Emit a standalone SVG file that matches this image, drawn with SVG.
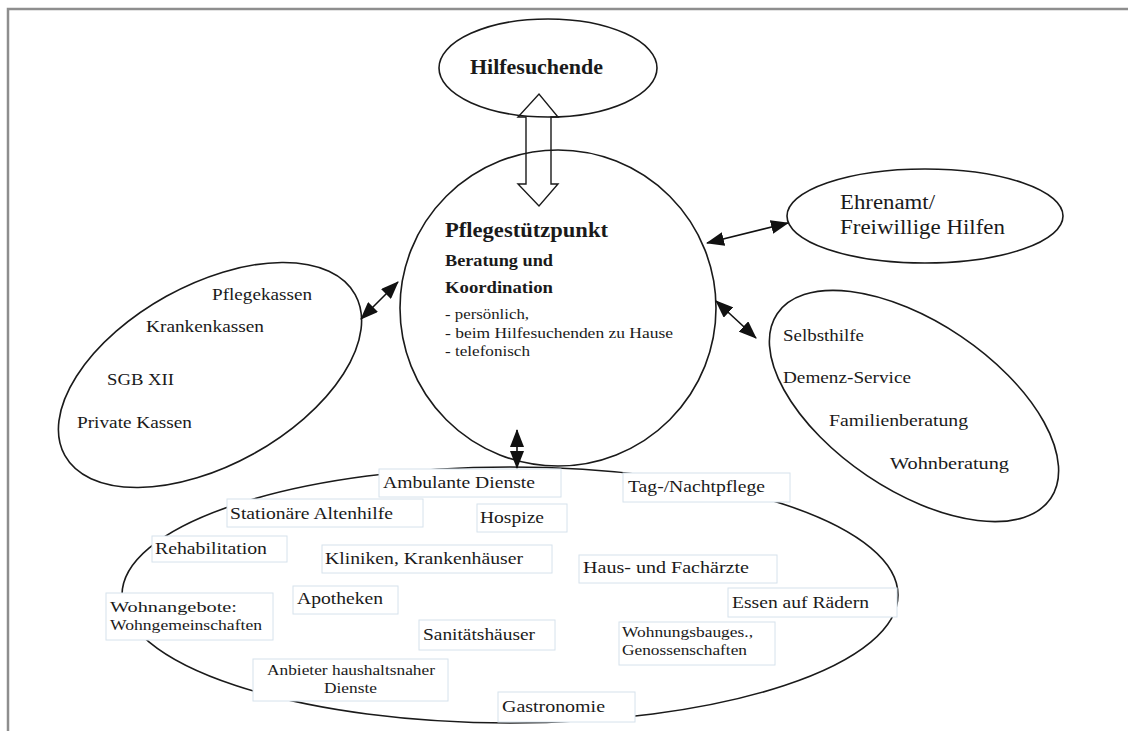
<svg xmlns="http://www.w3.org/2000/svg" width="1128" height="731" viewBox="0 0 1128 731">
<style>
.shape{fill:none;stroke:#1a1a1a;stroke-width:1.6}
.box{fill:#ffffff;stroke:#d6e2ec;stroke-width:1}
text{font-family:"Liberation Serif","Times New Roman",serif;fill:#1a1a1a}
.lb{font-size:17px}
.sm{font-size:15px}
.con{stroke:#111;stroke-width:1.6;fill:none}
</style>
<defs>
<marker id="ah" markerUnits="userSpaceOnUse" markerWidth="18" markerHeight="14" refX="17" refY="7" orient="auto-start-reverse" viewBox="0 0 18 14">
<path d="M0,0 L18,7 L0,14 Z" fill="#111"/>
</marker>
</defs>
<rect x="0" y="0" width="1128" height="731" fill="#ffffff"/>
<path d="M8,731 V9 H1128" fill="none" stroke="#8e8e8e" stroke-width="2.5"/>

<g id="hilfesuchende">
<ellipse class="shape" cx="548" cy="68" rx="109" ry="49"/>
<text x="470" y="74" font-family="Liberation Serif, serif" font-size="20" font-weight="bold" textLength="133" lengthAdjust="spacingAndGlyphs">Hilfesuchende</text>
</g>

<g id="pflegestuetzpunkt">
<circle class="shape" cx="558" cy="308" r="158"/>
<text x="445" y="237" font-size="20" font-weight="bold" textLength="163" lengthAdjust="spacingAndGlyphs">Pflegestützpunkt</text>
<text x="445" y="266" font-size="16" font-weight="bold" textLength="108" lengthAdjust="spacingAndGlyphs">Beratung und</text>
<text x="445" y="293" font-size="16" font-weight="bold" textLength="108" lengthAdjust="spacingAndGlyphs">Koordination</text>
<text x="445" y="319" font-size="14" textLength="84" lengthAdjust="spacingAndGlyphs">- persönlich,</text>
<text x="445" y="338" font-size="14" textLength="228" lengthAdjust="spacingAndGlyphs">- beim Hilfesuchenden zu Hause</text>
<text x="445" y="356" font-size="14" textLength="85" lengthAdjust="spacingAndGlyphs">- telefonisch</text>
</g>

<g id="kassen">
<ellipse class="shape" cx="210" cy="375" rx="166" ry="90" transform="rotate(-29 210 375)"/>
<text class="lb" x="212" y="300" textLength="100" lengthAdjust="spacingAndGlyphs">Pflegekassen</text>
<text class="lb" x="146" y="332" textLength="118" lengthAdjust="spacingAndGlyphs">Krankenkassen</text>
<text class="lb" x="107" y="385" textLength="67" lengthAdjust="spacingAndGlyphs">SGB XII</text>
<text class="lb" x="77" y="428" textLength="115" lengthAdjust="spacingAndGlyphs">Private Kassen</text>
</g>

<g id="ehrenamt">
<ellipse class="shape" cx="925" cy="216" rx="138" ry="47"/>
<text x="840" y="209" font-size="20" textLength="95" lengthAdjust="spacingAndGlyphs">Ehrenamt/</text>
<text x="840" y="234" font-size="20" textLength="165" lengthAdjust="spacingAndGlyphs">Freiwillige Hilfen</text>
</g>

<g id="selbsthilfe">
<ellipse class="shape" cx="914" cy="406" rx="165" ry="84" transform="rotate(34 914 406)"/>
<text class="lb" x="783" y="341" textLength="81" lengthAdjust="spacingAndGlyphs">Selbsthilfe</text>
<text class="lb" x="783" y="383" textLength="128" lengthAdjust="spacingAndGlyphs">Demenz-Service</text>
<text class="lb" x="829" y="426" textLength="139" lengthAdjust="spacingAndGlyphs">Familienberatung</text>
<text class="lb" x="890" y="469" textLength="119" lengthAdjust="spacingAndGlyphs">Wohnberatung</text>
</g>

<g id="dienste">
<ellipse class="shape" cx="510" cy="595" rx="388" ry="128"/>
<rect class="box" x="379" y="469" width="182" height="28"/>
<text class="lb" x="383" y="488" textLength="152" lengthAdjust="spacingAndGlyphs">Ambulante Dienste</text>
<rect class="box" x="623" y="473" width="167" height="29"/>
<text class="lb" x="628" y="492" textLength="137" lengthAdjust="spacingAndGlyphs">Tag-/Nachtpflege</text>
<rect class="box" x="227" y="499" width="196" height="28"/>
<text class="lb" x="230" y="519" textLength="163" lengthAdjust="spacingAndGlyphs">Stationäre Altenhilfe</text>
<rect class="box" x="477" y="504" width="90" height="28"/>
<text class="lb" x="480" y="523" textLength="64" lengthAdjust="spacingAndGlyphs">Hospize</text>
<rect class="box" x="152" y="536" width="135" height="26"/>
<text class="lb" x="155" y="554" textLength="112" lengthAdjust="spacingAndGlyphs">Rehabilitation</text>
<rect class="box" x="322" y="545" width="230" height="28"/>
<text class="lb" x="325" y="564" textLength="198" lengthAdjust="spacingAndGlyphs">Kliniken, Krankenhäuser</text>
<rect class="box" x="579" y="555" width="198" height="28"/>
<text class="lb" x="583" y="573" textLength="166" lengthAdjust="spacingAndGlyphs">Haus- und Fachärzte</text>
<rect class="box" x="293" y="586" width="105" height="28"/>
<text class="lb" x="297" y="604" textLength="86" lengthAdjust="spacingAndGlyphs">Apotheken</text>
<rect class="box" x="728" y="588" width="169" height="29"/>
<text class="lb" x="732" y="608" textLength="137" lengthAdjust="spacingAndGlyphs">Essen auf Rädern</text>
<rect class="box" x="106" y="593" width="167" height="47"/>
<text class="sm" x="110" y="612" textLength="127" lengthAdjust="spacingAndGlyphs">Wohnangebote:</text>
<text class="sm" x="110" y="630" textLength="152" lengthAdjust="spacingAndGlyphs">Wohngemeinschaften</text>
<rect class="box" x="419" y="620" width="136" height="30"/>
<text class="lb" x="423" y="640" textLength="112" lengthAdjust="spacingAndGlyphs">Sanitätshäuser</text>
<rect class="box" x="619" y="622" width="156" height="43"/>
<text class="sm" x="622" y="637" textLength="131" lengthAdjust="spacingAndGlyphs">Wohnungsbauges.,</text>
<text class="sm" x="622" y="655" textLength="125" lengthAdjust="spacingAndGlyphs">Genossenschaften</text>
<rect class="box" x="253" y="659" width="195" height="42"/>
<text class="sm" x="267" y="675" textLength="168" lengthAdjust="spacingAndGlyphs">Anbieter haushaltsnaher</text>
<text class="sm" x="324" y="693" textLength="53" lengthAdjust="spacingAndGlyphs">Dienste</text>
<rect class="box" x="498" y="692" width="137" height="30"/>
<text class="lb" x="502" y="712" textLength="103" lengthAdjust="spacingAndGlyphs">Gastronomie</text>
</g>

<g id="connectors">
<path d="M526,117 V184 H518 L539,206 L558,184 H551 V117 H558 L539,94 L518,117 Z" fill="none" stroke="#1a1a1a" stroke-width="1.4"/>
<line class="con" x1="398" y1="282" x2="361" y2="319" marker-start="url(#ah)" marker-end="url(#ah)"/>
<line class="con" x1="707" y1="243" x2="788" y2="223" marker-start="url(#ah)" marker-end="url(#ah)"/>
<line class="con" x1="716" y1="301" x2="756" y2="338" marker-start="url(#ah)" marker-end="url(#ah)"/>
<line class="con" x1="517" y1="430" x2="517" y2="468" marker-start="url(#ah)" marker-end="url(#ah)"/>
</g>
</svg>
